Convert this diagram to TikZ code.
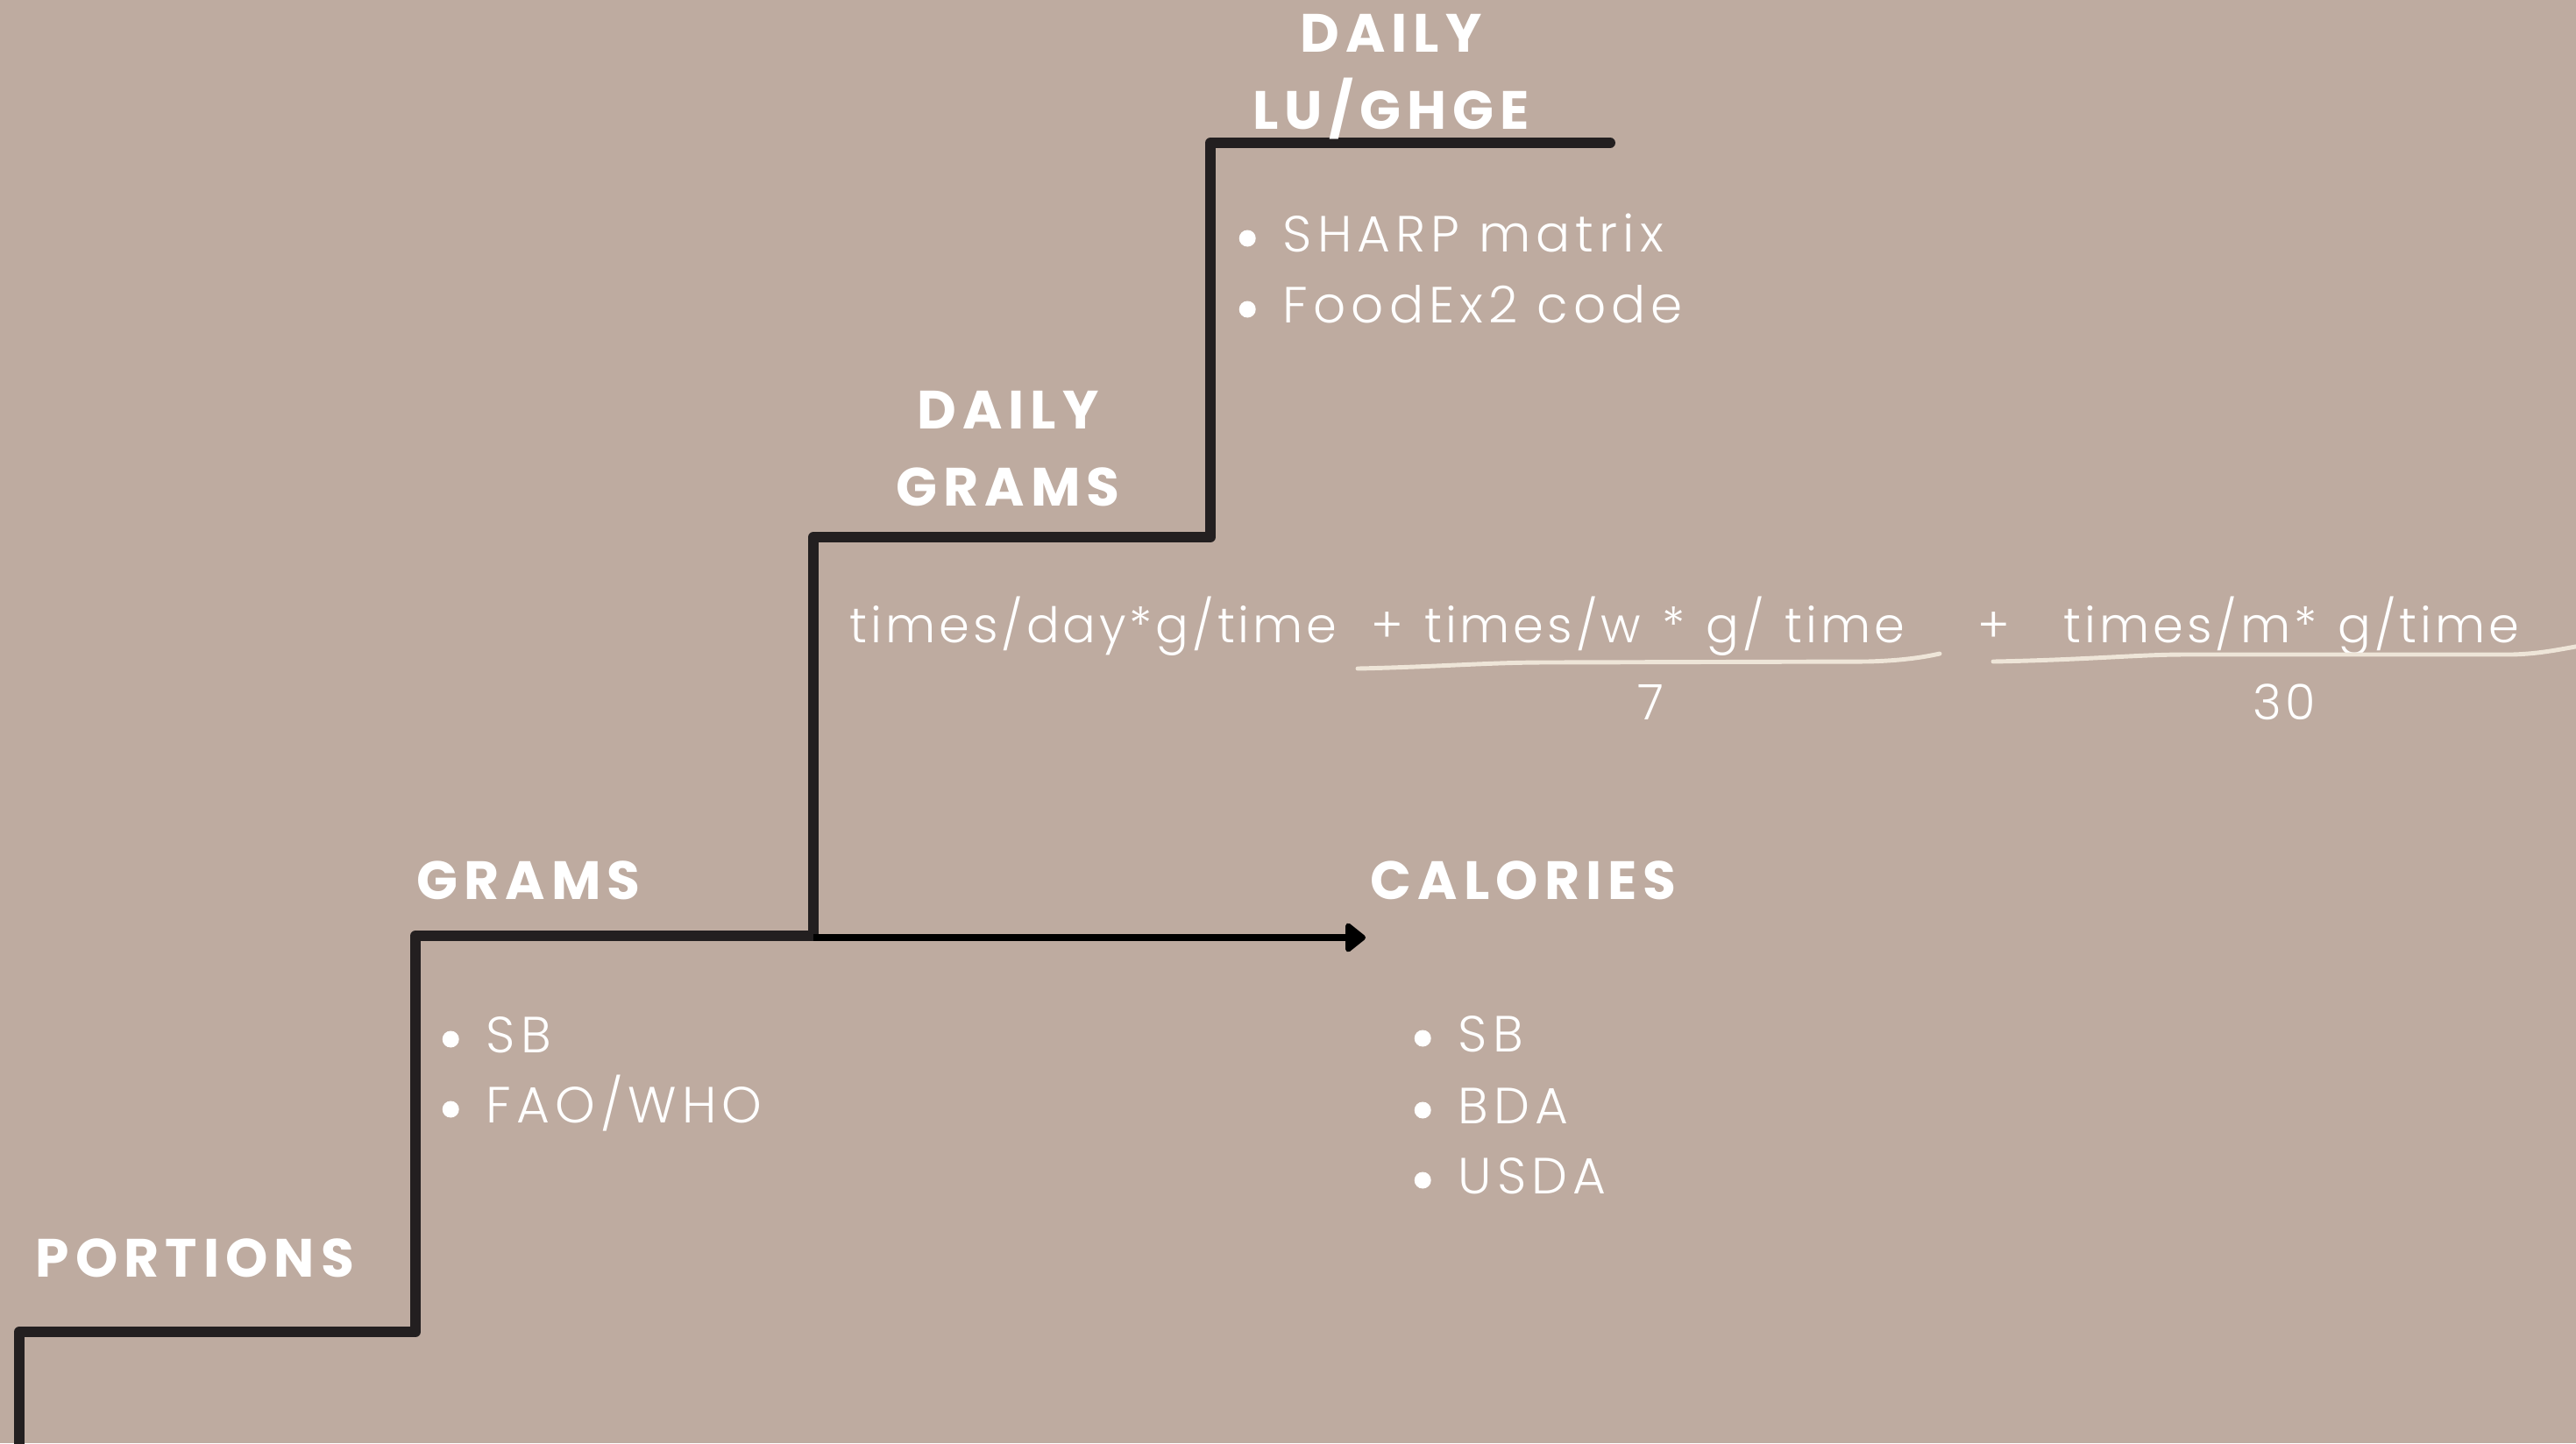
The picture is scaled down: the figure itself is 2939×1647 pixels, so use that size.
\documentclass[tikz,border=0pt]{standalone}
\usepackage{fontspec}
\setmainfont{Poppins}
\newfontfamily\headfont{Poppins}[LetterSpace=11.5]
\newfontfamily\bodyfont{Poppins Light}[LetterSpace=10.5]
\newfontfamily\formfont{Poppins Light}[LetterSpace=7, WordSpace=1.25]
\usetikzlibrary{arrows.meta}
\definecolor{bgc}{RGB}{190,171,160}
\definecolor{stairc}{RGB}{35,31,32}
\definecolor{creamc}{RGB}{238,229,216}
\newcommand{\itm}[1]{\makebox[0.50cm][l]{\tikz[baseline=-0.15cm]\fill[white] (0,0) circle[radius=0.095cm];}#1}
\tikzset{
  heading/.style={text=white, inner sep=0pt, font=\headfont\bfseries\fontsize{17.5pt}{21pt}\selectfont},
  body/.style={text=white, inner sep=0pt, font=\bodyfont\fontsize{16.5pt}{19pt}\selectfont},
  formula/.style={text=white, inner sep=0pt, font=\formfont\fontsize{15.9pt}{19pt}\selectfont},
  stair/.style={draw=stairc, line width=3.4pt, line join=round, line cap=round},
  flow/.style={draw=black, line width=2.5pt, -{Triangle[length=0.25cm, width=0.38cm, round]}},
  frac/.style={draw=creamc, line width=1.4pt, line cap=round}
}
\begin{document}
\begin{tikzpicture}[x=0.01cm, y=-0.01cm]
\useasboundingbox[fill=bgc] (0,0) rectangle (2939,1647);
% staircase corners
\coordinate (s0) at (22,1670);
\coordinate (s1) at (22,1520);
\coordinate (s2) at (474,1520);
\coordinate (s3) at (474,1068);
\coordinate (s4) at (928,1068);
\coordinate (s5) at (928,613);
\coordinate (s6) at (1381,613);
\coordinate (s7) at (1381,163);
\coordinate (s8) at (1837,163);
\coordinate (a0) at (928,1070);
\coordinate (a1) at (1558,1070);
\draw[stair] (s0) -- (s1) -- (s2) -- (s3) -- (s4) -- (s5) -- (s6) -- (s7) -- (s8);
\draw[flow] (a0) -- (a1);
% headings
\node[heading, anchor=base west] (portions) at (40,1457) {PORTIONS};
\node[heading, anchor=base west] (grams) at (475,1026) {GRAMS};
\node[heading, anchor=base west] (calories) at (1563,1026) {CALORIES};
\node[heading, anchor=base] (dgdaily) at (1150,489) {DAILY};
\node[heading, anchor=base] (dggrams) at (1150,577) {GRAMS};
\node[heading, anchor=base] (dldaily) at (1587,59) {DAILY};
\node[heading, anchor=base] (dllu) at (1587,147) {LU/GHGE};
% bullet lists
\node[body, anchor=base west] (i1) at (1413,287) {\itm{SHARP matrix}};
\node[body, anchor=base west] (i2) at (1413,368) {\itm{FoodEx2 code}};
\node[body, anchor=base west] (g1) at (504,1201) {\itm{SB}};
\node[body, anchor=base west] (g2) at (504,1281) {\itm{FAO/WHO}};
\node[body, anchor=base west] (c1) at (1613,1200) {\itm{SB}};
\node[body, anchor=base west] (c2) at (1613,1282) {\itm{BDA}};
\node[body, anchor=base west] (c3) at (1613,1362) {\itm{USDA}};
% formula
\node[formula, anchor=base west] (f1) at (969,733) {times/day*g/time};
\node[formula, anchor=base west] (f2) at (1564,733) {+ times/w * g/ time};
\node[formula, anchor=base west] (f3) at (2256,733) {+};
\node[formula, anchor=base west] (f4) at (2354,733) {times/m* g/time};
\node[formula, anchor=base] (d1) at (1883,821) {7};
\node[formula, anchor=base] (d2) at (2606,821) {30};
\draw[frac] (1549,763) .. controls (1640,761) and (1700,756) .. (1762,756) -- (2130,755) .. controls (2170,754) and (2195,750) .. (2213,746);
\draw[frac] (2274,755) .. controls (2380,753) and (2440,747) .. (2492,747) -- (2866,747) .. controls (2900,746) and (2920,741) .. (2950,736);
\end{tikzpicture}
\end{document}
